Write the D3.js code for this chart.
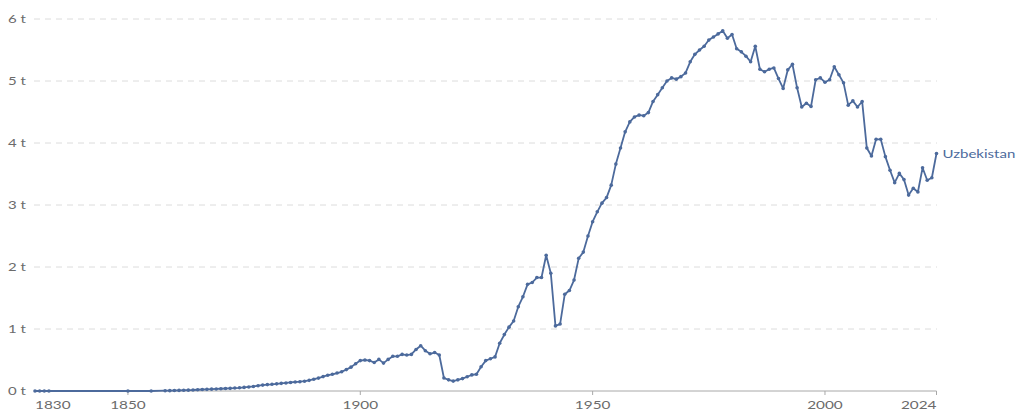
<!DOCTYPE html>
<html><head><meta charset="utf-8">
<script src="https://cdn.jsdelivr.net/npm/d3@7"></script>
<style>
html,body{margin:0;padding:0;background:#fff;}
svg{display:block;}
</style>
</head><body>
<svg id="chart" width="1023" height="410"></svg>
<script>
const seriesName = "Uzbekistan";
const years = [1830,1831,1832,1833,1850,1855,
1858,1859,1860,1861,1862,1863,1864,1865,1866,1867,1868,1869,
1870,1871,1872,1873,1874,1875,1876,1877,1878,1879,
1880,1881,1882,1883,1884,1885,1886,1887,1888,1889,
1890,1891,1892,1893,1894,1895,1896,1897,1898,1899,
1900,1901,1902,1903,1904,1905,1906,1907,1908,1909,
1910,1911,1912,1913,1914,1915,1916,1917,1918,1919,
1920,1921,1922,1923,1924,1925,1926,1927,1928,1929,
1930,1931,1932,1933,1934,1935,1936,1937,1938,1939,
1940,1941,1942,1943,1944,1945,1946,1947,1948,1949,
1950,1951,1952,1953,1954,1955,1956,1957,1958,1959,
1960,1961,1962,1963,1964,1965,1966,1967,1968,1969,
1970,1971,1972,1973,1974,1975,1976,1977,1978,1979,
1980,1981,1982,1983,1984,1985,1986,1987,1988,1989,
1990,1991,1992,1993,1994,1995,1996,1997,1998,1999,
2000,2001,2002,2003,2004,2005,2006,2007,2008,2009,
2010,2011,2012,2013,2014,2015,2016,2017,2018,2019,
2020,2021,2022,2023,2024];
const values = [0,0,0,0,0,0,
0.005,0.006,0.008,0.01,0.012,0.014,0.016,0.02,0.024,0.027,0.03,0.033,
0.036,0.04,0.043,0.048,0.052,0.058,0.065,0.073,0.085,0.095,
0.103,0.108,0.115,0.123,0.13,0.138,0.145,0.15,0.158,0.172,
0.19,0.208,0.232,0.255,0.27,0.29,0.31,0.345,0.385,0.44,
0.49,0.5,0.49,0.46,0.51,0.45,0.51,0.56,0.56,0.59,
0.58,0.59,0.67,0.73,0.65,0.6,0.62,0.58,0.21,0.18,
0.16,0.18,0.2,0.23,0.26,0.27,0.39,0.49,0.52,0.55,
0.77,0.91,1.03,1.13,1.36,1.52,1.72,1.75,1.83,1.83,
2.19,1.9,1.05,1.08,1.56,1.62,1.79,2.14,2.24,2.5,
2.73,2.89,3.03,3.12,3.32,3.66,3.92,4.18,4.34,4.42,
4.45,4.44,4.49,4.67,4.78,4.89,5.0,5.05,5.03,5.07,
5.13,5.31,5.43,5.5,5.56,5.66,5.71,5.76,5.81,5.69,
5.75,5.52,5.47,5.4,5.31,5.56,5.19,5.15,5.19,5.21,
5.04,4.88,5.18,5.27,4.89,4.58,4.64,4.59,5.02,5.05,
4.98,5.02,5.23,5.1,4.97,4.61,4.68,4.58,4.67,3.92,
3.79,4.06,4.06,3.78,3.56,3.36,3.51,3.41,3.16,3.27,
3.21,3.6,3.4,3.44,3.83];
const yTicks = [0,1,2,3,4,5,6];
const yTickLabels = ["0 t","1 t","2 t","3 t","4 t","5 t","6 t"];
const xTicks = [1830,1850,1900,1950,2000,2024];

const lineColor = "#4c6a9c";
const textColor = "#6b6b6b";
const svg = d3.select("#chart");

const x = d3.scaleLinear().domain([1830, 2024]).range([35, 936.5]);
const y = d3.scaleLinear().domain([0, 6]).range([391, 19]);
const data = years.map((yr, i) => ({year: yr, value: values[i]}));

// gridlines
svg.append("g").selectAll("line").data(yTicks.filter(d => d > 0)).join("line")
  .attr("x1", 34).attr("x2", 937)
  .attr("y1", d => y(d)).attr("y2", d => y(d))
  .attr("stroke", "#dcdcdc").attr("stroke-width", 1)
  .attr("stroke-dasharray", "6,5");

// y labels
svg.append("g").selectAll("text").data(yTicks).join("text")
  .attr("transform", d => `translate(8,${y(d)}) scale(1.25,1)`)
  .attr("dy", "0.35em")
  .attr("font-family", "Lato, sans-serif").attr("font-size", 12)
  .attr("fill", textColor)
  .text((d, i) => yTickLabels[i]);

// x axis baseline
svg.append("line")
  .attr("x1", x(1830)).attr("x2", x(2024))
  .attr("y1", y(0)).attr("y2", y(0))
  .attr("stroke", "#a8a8a8").attr("stroke-width", 1);

// x ticks
svg.append("g").selectAll("line").data(xTicks.filter(d => d !== 1830)).join("line")
  .attr("x1", d => x(d)).attr("x2", d => x(d))
  .attr("y1", y(0)).attr("y2", y(0) + 4)
  .attr("stroke", "#a8a8a8").attr("stroke-width", 1);

svg.append("g").selectAll("text").data(xTicks).join("text")
  .attr("transform", d => `translate(${x(d)},408.5) scale(1.28,1)`)
  .attr("text-anchor", d => d === 1830 ? "start" : (d === 2024 ? "end" : "middle"))
  .attr("font-family", "Lato, sans-serif").attr("font-size", 12)
  .attr("fill", textColor)
  .text(d => d);

// line
const line = d3.line().x(d => x(d.year)).y(d => y(d.value));
svg.append("path").datum(data)
  .attr("fill", "none").attr("stroke", lineColor)
  .attr("stroke-width", 1.8).attr("stroke-linejoin", "round")
  .attr("d", line);

svg.append("g").selectAll("circle").data(data).join("circle")
  .attr("cx", d => x(d.year)).attr("cy", d => y(d.value))
  .attr("r", 1.8).attr("fill", lineColor);

// label
const last = data[data.length - 1];
svg.append("text")
  .attr("transform", `translate(${x(last.year) + 6},${y(last.value)}) scale(1.25,1)`)
  .attr("dy", "0.35em")
  .attr("font-family", "Lato, sans-serif").attr("font-size", 12)
  .attr("fill", lineColor)
  .text(seriesName);
</script>
</body></html>
